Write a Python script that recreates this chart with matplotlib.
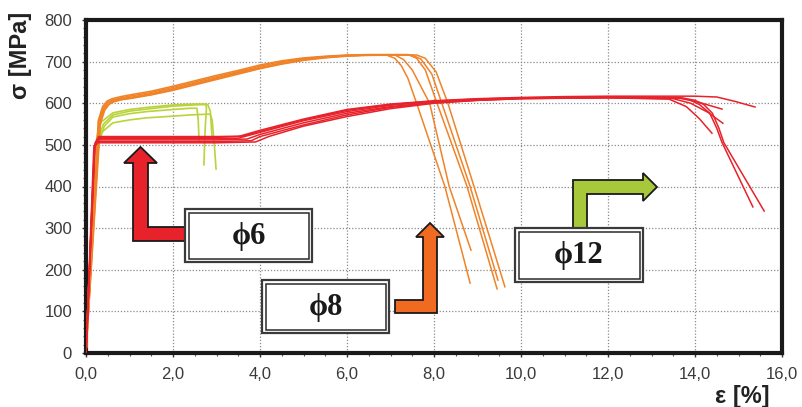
import matplotlib
matplotlib.use('Agg')
import matplotlib.pyplot as plt
import matplotlib.transforms as mtransforms
from matplotlib.patches import Polygon, Rectangle
from matplotlib.ticker import MultipleLocator, FuncFormatter

plt.rcParams['font.family'] = ['Liberation Sans', 'DejaVu Sans']

# 拉伸曲线: 应变 [%] / 应力 [MPa]
# 红色组
red_eps = [
    [0, 0.2, 0.3, 1.0, 2.0, 3.0, 3.5, 4.0, 5.0, 6.0, 7.0, 8.0, 9.0, 10.0, 11.0, 12.0, 13.0, 14.0, 14.5, 14.9, 15.38],
    [0, 0.2, 0.27, 1.0, 2.0, 3.0, 3.7, 4.0, 5.0, 6.0, 7.0, 8.0, 9.0, 10.0, 11.0, 12.0, 13.0, 13.7, 14.1, 14.62],
    [0, 0.18, 0.25, 1.0, 2.0, 3.0, 3.8, 4.0, 5.0, 6.0, 7.0, 8.0, 9.0, 10.0, 12.0, 13.5, 13.9, 14.3, 14.64],
    [0, 0.2, 0.28, 1.0, 2.0, 3.0, 3.5, 4.0, 5.0, 6.0, 7.0, 8.0, 9.0, 10.0, 12.0, 13.4, 13.8, 14.1, 14.39],
    [0, 0.19, 0.26, 1.0, 2.0, 3.0, 3.9, 4.2, 5.0, 6.0, 7.0, 8.0, 9.0, 10.0, 12.0, 13.6, 13.9, 14.1, 14.34, 14.5, 14.62, 15.33],
    [0, 0.21, 0.29, 1.0, 2.0, 3.0, 3.6, 4.0, 5.0, 6.0, 7.0, 8.0, 9.0, 10.0, 12.0, 13.7, 14.0, 14.2, 14.4, 14.55, 14.66, 15.59],
]
red_sig = [
    [0, 500, 517, 518, 518, 518, 520, 535, 562, 585, 598, 606, 611, 614, 616, 617, 617, 617, 615, 605, 591],
    [0, 498, 512, 512, 512, 512, 514, 525, 553, 576, 592, 602, 608, 612, 614, 615, 614, 612, 602, 586],
    [0, 495, 508, 508, 508, 508, 510, 520, 548, 572, 590, 601, 607, 611, 613, 611, 600, 578, 552],
    [0, 500, 515, 515, 515, 515, 516, 530, 558, 580, 595, 604, 609, 612, 613, 610, 592, 563, 528],
    [0, 492, 505, 505, 505, 505, 507, 520, 545, 568, 587, 600, 607, 611, 614, 613, 607, 597, 576, 540, 506, 351],
    [0, 505, 520, 520, 520, 520, 521, 532, 560, 583, 597, 605, 610, 613, 615, 613, 607, 597, 576, 540, 506, 341],
]

# 橙色组
orange_eps = [
    [0, 0.3, 0.4, 0.5, 0.6, 0.8, 1.0, 1.5, 2.0, 2.5, 3.0, 3.5, 4.0, 4.5, 5.0, 5.5, 6.0, 6.5, 6.9, 7.1, 7.25, 7.4, 7.6, 8.25, 8.83],
    [0, 0.32, 0.42, 0.52, 0.62, 0.8, 1.0, 1.5, 2.0, 2.5, 3.0, 3.5, 4.0, 4.5, 5.0, 5.5, 6.0, 6.5, 7.1, 7.3, 7.5, 7.7, 7.9, 8.35, 8.85],
    [0, 0.28, 0.38, 0.48, 0.6, 0.8, 1.0, 1.5, 2.0, 2.5, 3.0, 3.5, 4.0, 4.5, 5.0, 5.5, 6.0, 6.5, 7.4, 7.6, 7.8, 8.07, 8.76, 9.45],
    [0, 0.3, 0.4, 0.5, 0.6, 0.8, 1.0, 1.5, 2.0, 2.5, 3.0, 3.5, 4.0, 4.5, 5.0, 5.5, 6.0, 6.5, 7.5, 7.7, 7.95, 8.18, 8.83, 9.47],
    [0, 0.33, 0.43, 0.53, 0.63, 0.8, 1.0, 1.5, 2.0, 2.5, 3.0, 3.5, 4.0, 4.5, 5.0, 5.5, 6.0, 6.5, 7.6, 7.8, 8.05, 8.32, 8.92, 9.63],
]
orange_sig = [
    [0, 560, 590, 603, 608, 613, 617, 626, 638, 651, 664, 676, 689, 700, 707, 712, 715, 716, 716, 708, 690, 660, 600, 400, 168],
    [0, 555, 587, 600, 606, 611, 614, 623, 635, 648, 661, 674, 686, 697, 705, 711, 714, 716, 716, 705, 680, 640, 600, 400, 247],
    [0, 558, 592, 605, 611, 616, 620, 629, 641, 654, 667, 679, 692, 702, 709, 713, 716, 717, 717, 708, 680, 600, 400, 154],
    [0, 552, 585, 598, 604, 609, 612, 621, 633, 646, 659, 672, 684, 695, 704, 710, 714, 716, 716, 706, 670, 600, 400, 175],
    [0, 550, 583, 597, 603, 608, 611, 620, 631, 644, 657, 670, 683, 694, 703, 709, 713, 715, 716, 708, 675, 600, 400, 159],
]

# 绿色组
green_eps = [
    [0, 0.15, 0.25, 0.35, 0.62, 1.0, 1.4, 2.0, 2.5, 2.75, 2.77, 2.74, 2.71],
    [0, 0.18, 0.28, 0.4, 0.62, 1.0, 1.4, 2.0, 2.5, 2.8, 2.86, 2.88, 2.9],
    [0, 0.2, 0.3, 0.42, 0.62, 1.0, 1.4, 2.0, 2.4, 2.55, 2.58, 2.6],
    [0, 0.14, 0.24, 0.36, 0.62, 1.0, 1.4, 2.0, 2.4, 2.85, 2.9, 2.95, 2.99],
]
green_sig = [
    [0, 380, 520, 555, 577, 585, 590, 596, 598, 598, 590, 540, 452],
    [0, 390, 515, 550, 572, 581, 586, 593, 596, 597, 580, 545, 515],
    [0, 400, 505, 545, 567, 575, 580, 585, 588, 588, 560, 507],
    [0, 360, 490, 530, 553, 560, 565, 569, 572, 574, 560, 500, 442],
]

x_ticks = [0, 2, 4, 6, 8, 10, 12, 14, 16]
y_ticks = [0, 100, 200, 300, 400, 500, 600, 700, 800]

C_RED = '#e8222b'
C_ORANGE = '#f08328'
C_GREEN = '#b9d43a'

W, H = 802, 407
fig = plt.figure(figsize=(W / 100, H / 100), dpi=100)
fig.patch.set_facecolor('white')
ax = fig.add_axes([86 / W, 1 - 353 / H, (782 - 86) / W, (353 - 20) / H])

for xs, ys in zip(green_eps, green_sig):
    ax.plot(xs, ys, color=C_GREEN, lw=1.2, zorder=3)
for xs, ys in zip(orange_eps, orange_sig):
    ax.plot(xs, ys, color=C_ORANGE, lw=1.1, zorder=4)
for xs, ys in zip(red_eps, red_sig):
    ax.plot(xs, ys, color=C_RED, lw=1.1, zorder=5)

ax.set_xlim(0, 16)
ax.set_ylim(0, 800)
ax.set_xticks(x_ticks)
ax.set_yticks(y_ticks)
ax.xaxis.set_minor_locator(MultipleLocator(0.5))
ax.yaxis.set_minor_locator(MultipleLocator(20))
ax.xaxis.set_major_formatter(FuncFormatter(lambda v, p: f'{v:.1f}'.replace('.', ',')))
ax.grid(True, which='major', color='#8a8a8a', linestyle=(0, (1, 1.5)), lw=0.9, zorder=0)
ax.tick_params(which='major', direction='out', length=3, width=1, color='#333333',
               labelsize=12, labelcolor='#3a3a3a', pad=7)
ax.tick_params(which='minor', direction='out', length=2.5, width=0.8, color='#555555')
for sp in ax.spines.values():
    sp.set_linewidth(3)
    sp.set_color('#1a1a1a')

fig.text(21 / W, 1 - 55 / H, 'σ [MPa]', rotation=90, ha='center', va='center',
         fontsize=17, fontweight='bold', color='#222222')
fig.text(742 / W, 1 - 397 / H, 'ε [%]', ha='center', va='center',
         fontsize=17, fontweight='bold', color='#222222')

# 像素坐标（左上为原点）
pix = mtransforms.Affine2D().scale(1 / W, -1 / H).translate(0, 1) + fig.transFigure

arrows = [
    (C_RED, [(185, 227), (148, 227), (148, 163), (157, 163), (140.5, 147), (124, 163),
             (133, 163), (133, 241), (185, 241)]),
    ('#f06a22', [(395, 300), (423, 300), (423, 237), (416, 237), (430, 223), (444, 237),
                 (437, 237), (437, 313), (395, 313)]),
    ('#a8c83c', [(573, 228), (573, 180), (643, 180), (643, 173), (657, 187), (643, 201),
                 (643, 194), (587, 194), (587, 228)]),
]
for color, pts in arrows:
    fig.add_artist(Polygon(pts, closed=True, facecolor=color, edgecolor='#1a1a1a',
                           lw=1.3, transform=pix, zorder=5))

labels = [
    ('ϕ6', (185, 209, 312, 262)),
    ('ϕ8', (262, 280, 389, 333)),
    ('ϕ12', (515, 228, 643, 282)),
]
for text, (x0, y0, x1, y1) in labels:
    fig.add_artist(Rectangle((x0, y0), x1 - x0, y1 - y0, facecolor='white',
                             edgecolor='#3a3a3a', lw=1.6, transform=pix, zorder=6))
    fig.add_artist(Rectangle((x0 + 3.5, y0 + 3.5), x1 - x0 - 7, y1 - y0 - 7, facecolor='white',
                             edgecolor='#2a2a2a', lw=1.1, transform=pix, zorder=6))
    fig.text(((x0 + x1) / 2) / W, 1 - ((y0 + y1) / 2 + 1) / H, text, ha='center', va='center',
             fontsize=22, fontweight='bold', family=['Liberation Serif', 'DejaVu Serif'],
             color='#1a1a1a', zorder=7)

fig.savefig('out.png', dpi=100, facecolor='white')
